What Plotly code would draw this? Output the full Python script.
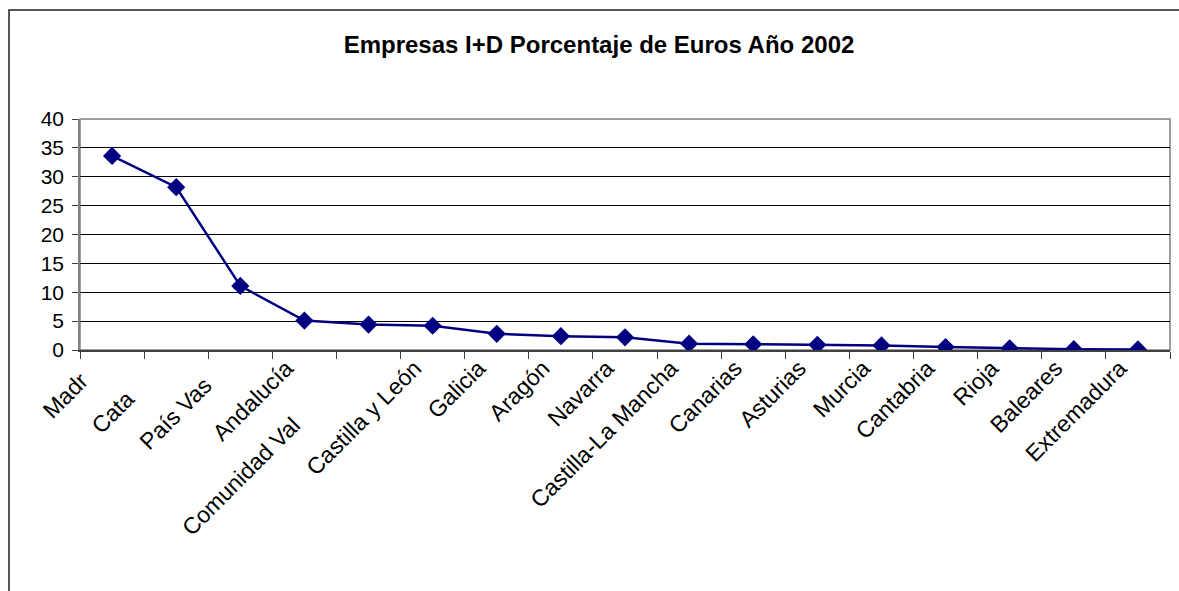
import plotly.graph_objects as go

# Regional share of business R&D spending (% of euros), 2002
regiones = [
    "Madrid", "Cataluña", "País Vasco", "Andalucía", "Comunidad Valenciana",
    "Castilla y León", "Galicia", "Aragón", "Navarra", "Castilla-La Mancha",
    "Canarias", "Asturias", "Murcia", "Cantabria", "Rioja", "Baleares",
    "Extremadura",
]
porcentaje = [33.6, 28.2, 11.1, 5.1, 4.4, 4.2, 2.8, 2.4, 2.2, 1.1,
              1.0, 0.9, 0.8, 0.5, 0.3, 0.15, 0.1]
y_ticks = [0, 5, 10, 15, 20, 25, 30, 35, 40]

# Labels whose tail is hidden by the neighbouring label
corte = {"Madrid": 4, "Cataluña": 4, "País Vasco": 8, "Comunidad Valenciana": 13}


def etiqueta(nombre):
    k = corte.get(nombre)
    if k is None:
        return nombre
    return nombre[:k] + "<span style='color:rgba(0,0,0,0)'>" + nombre[k:] + "</span>"


FONT = "Arial, Liberation Sans, sans-serif"
NAVY = "#000080"

W, H = 1179, 591
L, R, T, B = 80, 9, 119, 241
pw, ph = W - L - R, H - T - B

fig = go.Figure()
fig.add_trace(go.Scatter(
    x=regiones, y=porcentaje, mode="lines+markers",
    line=dict(color=NAVY, width=2.5),
    marker=dict(symbol="diamond", size=14, color=NAVY),
    showlegend=False, hoverinfo="x+y",
))

fig.update_layout(
    width=W, height=H,
    margin=dict(l=L, r=R, t=T, b=B, pad=0),
    paper_bgcolor="white", plot_bgcolor="white",
    font=dict(family=FONT, color="black"),
    title=dict(
        text="<b>Empresas I+D Porcentaje de Euros Año 2002</b>",
        font=dict(family=FONT, size=24, color="black"),
        x=599 / W, xref="container", xanchor="center",
        y=1 - 45 / H, yref="container", yanchor="middle",
    ),
    xaxis=dict(
        type="category",
        tickmode="array", tickvals=regiones,
        ticktext=[etiqueta(r) for r in regiones],
        tickson="boundaries", ticks="outside", ticklen=7,
        tickcolor="#404040", tickwidth=1.2,
        tickangle=-45, tickfont=dict(family=FONT, size=23, color="black"),
        ticklabelshift=-18, ticklabelstandoff=-6,
        showgrid=False, zeroline=False,
        showline=True, linecolor="#404040", linewidth=1.5,
        range=[-0.5, len(regiones) - 0.5],
    ),
    yaxis=dict(
        range=[0, 40], tickmode="array", tickvals=y_ticks,
        ticks="outside", ticklen=6, tickcolor="#404040", tickwidth=1.2,
        tickfont=dict(family=FONT, size=21, color="black"),
        ticklabelstandoff=4,
        showgrid=True, gridcolor="black", gridwidth=1,
        zeroline=False,
        showline=True, linecolor="#808080", linewidth=1.5,
    ),
)

# Plot area border (grey) and outer chart frame
fig.add_shape(type="rect", xref="paper", yref="paper", x0=0, x1=1, y0=0, y1=1,
              line=dict(color="#808080", width=1.5), layer="below")
fig.add_shape(type="rect", xref="paper", yref="paper",
              x0=(9 - L) / pw, x1=1.5, y0=-3, y1=1 + (T - 10) / ph,
              line=dict(color="#202020", width=1.5), layer="below")

fig.write_html("out.html")
